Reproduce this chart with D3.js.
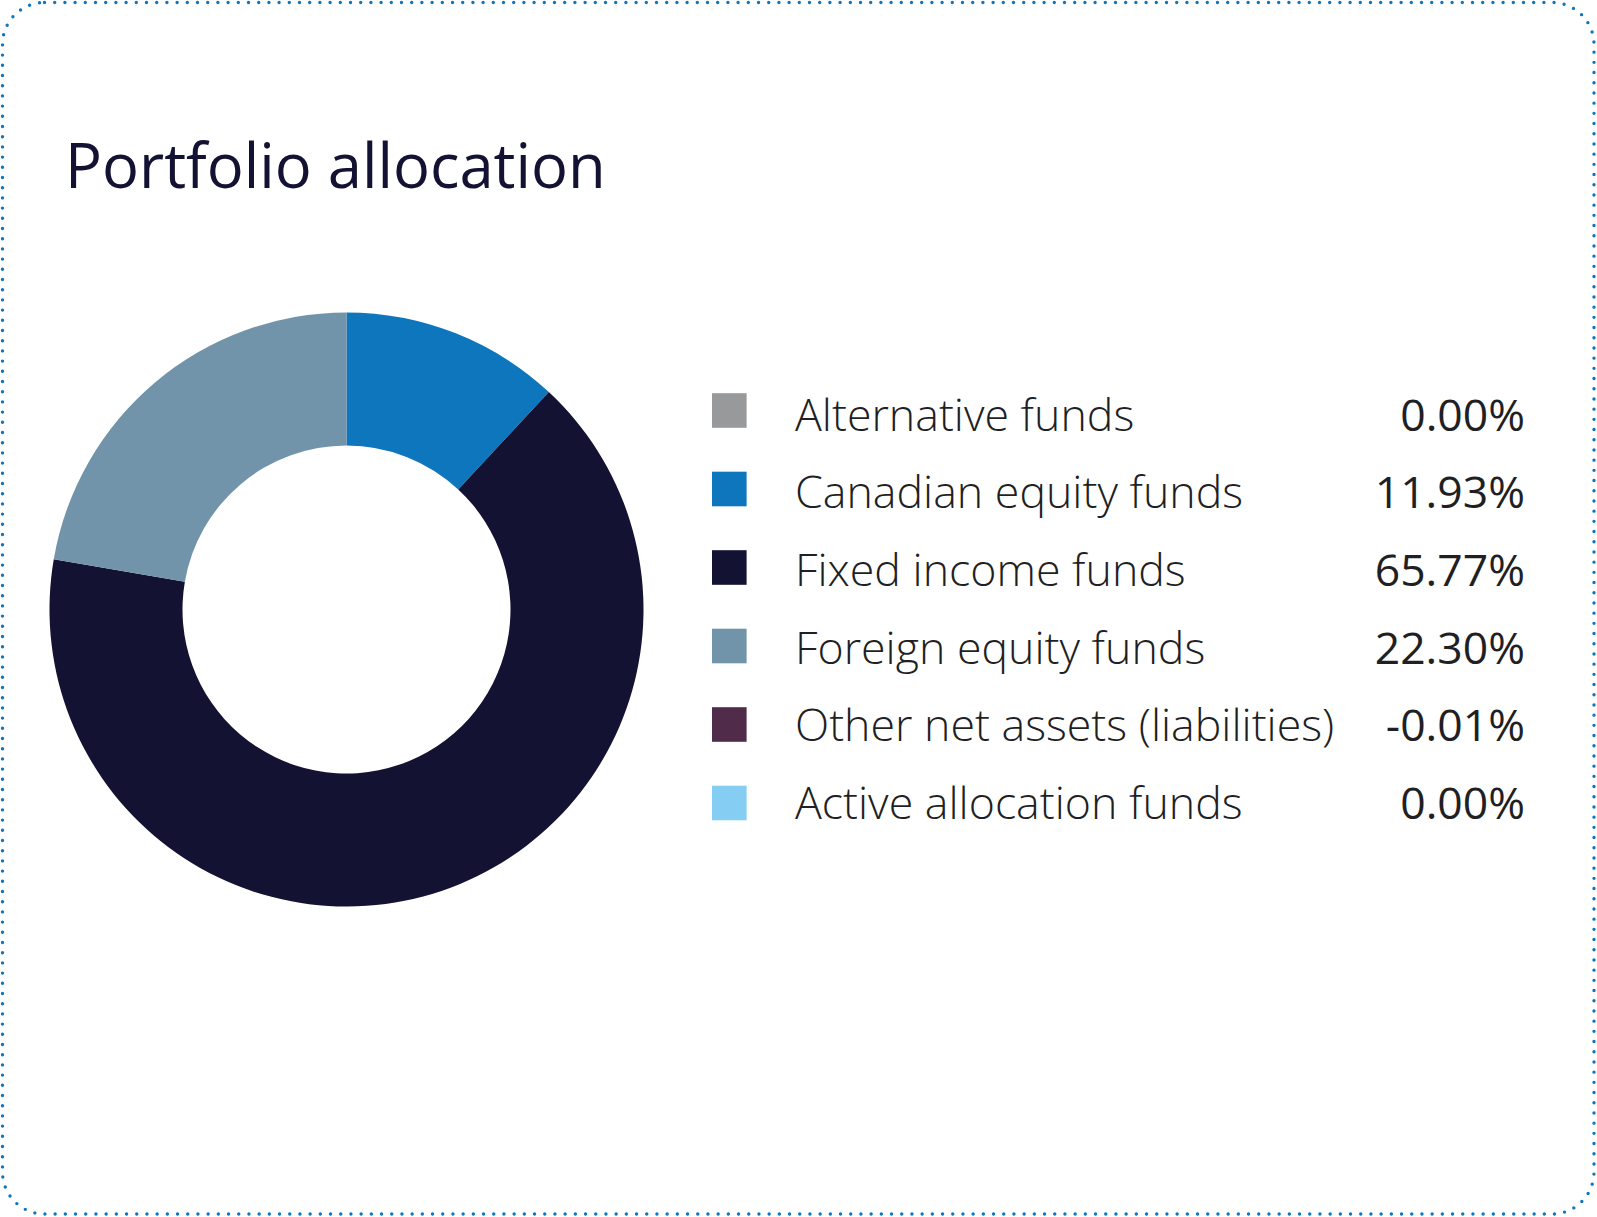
<!DOCTYPE html>
<html>
<head>
<meta charset="utf-8">
<script src="https://cdn.jsdelivr.net/npm/d3@7/dist/d3.min.js"></script>
<style>
  html, body { margin: 0; padding: 0; background: #ffffff; }
  svg { display: block; }
</style>
</head>
<body>
<script>
// ---- Data ----
const title = "Portfolio allocation";
const categories = [
  "Alternative funds",
  "Canadian equity funds",
  "Fixed income funds",
  "Foreign equity funds",
  "Other net assets (liabilities)",
  "Active allocation funds"
];
const values = [0.00, 11.93, 65.77, 22.30, -0.01, 0.00];
const colors = ["#98999b", "#0e76bd", "#131233", "#7194aa", "#512c4a", "#85cdf2"];

// ---- Layout ----
const W = 1597, H = 1217;
const svg = d3.select("body").append("svg").attr("width", W).attr("height", H);

// dotted rounded border
svg.append("rect")
  .attr("x", 2.5).attr("y", 2.5)
  .attr("width", W - 5.5).attr("height", H - 5.5)
  .attr("rx", 42).attr("ry", 42)
  .attr("fill", "#ffffff")
  .attr("stroke", "#0e76bd")
  .attr("stroke-width", 3.4)
  .attr("stroke-linecap", "round")
  .attr("stroke-dasharray", "0 10.2");

// title
svg.append("text")
  .attr("x", 65).attr("y", 188)
  .attr("font-family", "'Open Sans', sans-serif")
  .attr("font-size", 61.5)
  .attr("fill", "#131233")
  .text(title);

// donut
const data = categories.map((c, i) => ({ name: c, value: values[i], color: colors[i] }));
const pie = d3.pie().sort(null).value(d => Math.max(0, d.value));
const cx = 346.5, cy = 609.5, R = 297, r = 164;
const arc = d3.arc().innerRadius(r).outerRadius(R);
const g = svg.append("g").attr("transform", `translate(${cx},${cy})`);
g.selectAll("path")
  .data(pie(data).filter(d => d.endAngle > d.startAngle))
  .join("path")
  .attr("d", arc)
  .attr("fill", d => d.data.color);

// legend
const ySwatch = d3.scalePoint().domain(categories).range([410.5, 803]);
const yText = d3.scalePoint().domain(categories).range([414.5, 803]);
const fmt = d3.formatLocale({ decimal: ".", thousands: ",", grouping: [3], currency: ["$", ""], minus: "-" }).format(".2f");
const lg = svg.append("g");
lg.selectAll("rect").data(data).join("rect")
  .attr("x", 712).attr("y", d => ySwatch(d.name) - 17.3)
  .attr("width", 34.6).attr("height", 34.6)
  .attr("fill", d => d.color);
lg.selectAll("text.label").data(data).join("text")
  .attr("class", "label")
  .attr("x", 795).attr("y", d => yText(d.name)).attr("dy", "0.36em")
  .attr("font-family", "'Open Sans', sans-serif")
  .attr("font-weight", 300)
  .attr("font-size", 44.7)
  .attr("fill", "#1f1f24")
  .text(d => d.name);
lg.selectAll("text.value").data(data).join("text")
  .attr("class", "value")
  .attr("x", 1525).attr("y", d => yText(d.name)).attr("dy", "0.36em")
  .attr("text-anchor", "end")
  .attr("font-family", "'Open Sans', sans-serif")
  .attr("font-size", 44.5)
  .attr("fill", "#1f1f24")
  .text(d => fmt(d.value) + "%");
</script>
</body>
</html>
